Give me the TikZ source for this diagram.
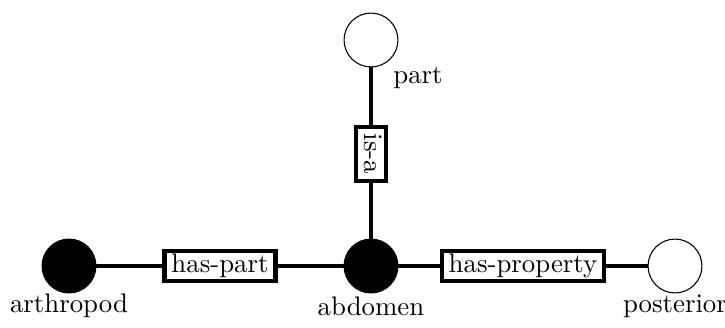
\documentclass[tikz,border=0pt]{standalone}
\begin{document}
\begin{tikzpicture}[x=0.373pt,y=-0.373pt,
  full/.style={circle,fill=black,draw=black,line width=0.4pt,minimum size=20.1pt,inner sep=0pt},
  empty/.style={circle,fill=white,draw=black,line width=0.4pt,minimum size=20.1pt,inner sep=0pt},
  rel/.style={draw=black,fill=white,line width=1.7pt,inner xsep=2.5pt,inner ysep=1.2pt,text height=6.94pt,text depth=1.94pt},
  conn/.style={line width=1.3pt},
  lbl/.style={inner sep=0pt}]
\useasboundingbox (0,0) rectangle (725,327);
\node[empty] (part) at (371,40) {};
\node[full] (abdomen) at (371,266) {};
\node[full] (arthropod) at (69,266) {};
\node[empty] (posterior) at (675,266) {};
\node[rel] (hp) at (220,266) {has-part};
\node[rel] (hprop) at (523,266) {has-property};
\node[rel,rotate=-90] (isa) at (371,154) {is-a};
\draw[conn] (part) -- (isa);
\draw[conn] (isa) -- (abdomen);
\draw[conn] (arthropod) -- (hp);
\draw[conn] (hp) -- (abdomen);
\draw[conn] (abdomen) -- (hprop);
\draw[conn] (hprop) -- (posterior);
\node[lbl] (lpart) at (418,78) {part};
\node[lbl] (larth) at (69,306) {arthropod};
\node[lbl] (labd) at (371,306) {abdomen};
\node[lbl] (lpost) at (675,306) {posterior};
\end{tikzpicture}
\end{document}
